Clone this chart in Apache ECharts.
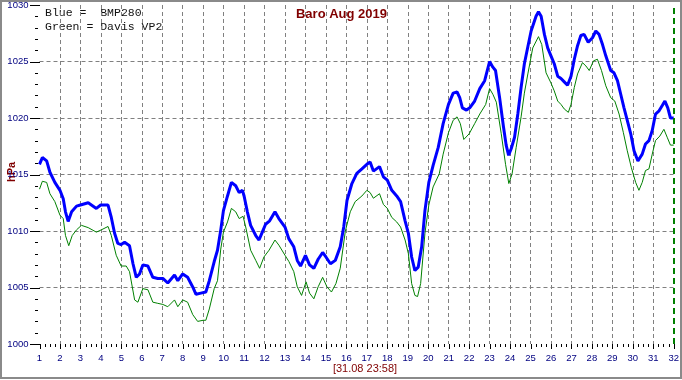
<!DOCTYPE html>
<html><head><meta charset="utf-8">
<script src="https://cdn.jsdelivr.net/npm/echarts@6/dist/echarts.min.js"></script>
<style>html,body{margin:0;padding:0;background:#fff}#c{width:682px;height:380px}</style>
</head><body><div id="c"></div>
<script>
// Day-of-month positions (x) and pressure readings in hPa
const blueDays = [1.0,1.14,1.35,1.51,1.75,2.0,2.16,2.27,2.40,2.57,2.81,3.0,3.38,3.78,3.99,4.35,4.51,4.67,4.83,4.99,5.16,5.40,5.57,5.73,5.89,6.05,6.30,6.54,6.78,7.03,7.27,7.60,7.76,8.0,8.24,8.49,8.65,8.89,
  9.13,9.30,9.54,9.70,9.86,9.99,10.19,10.38,10.59,10.76,10.92,11.0,11.16,11.32,11.57,11.73,11.89,12.05,12.25,12.51,12.70,13.0,13.19,13.43,13.6,13.76,14.0,14.2,14.41,14.62,14.84,15.0,15.22,15.46,15.70,15.87,16.03,16.27,16.51,16.76,
  17.0,17.16,17.32,17.62,17.81,18.0,18.22,18.46,18.65,18.87,19.03,19.19,19.35,19.51,19.68,19.84,20.03,20.24,20.49,20.73,20.99,21.22,21.41,21.54,21.67,21.87,22.03,22.27,22.52,22.76,23.0,23.16,23.29,23.49,23.68,23.81,23.93,24.06,24.22,24.38,24.54,24.70,24.87,
  25.03,25.27,25.39,25.52,25.68,25.84,26.0,26.16,26.33,26.49,26.65,26.81,26.98,27.14,27.3,27.46,27.62,27.82,28.03,28.19,28.35,28.52,28.68,28.92,29.08,29.25,29.41,29.57,29.73,29.9,30.06,30.25,30.46,30.62,30.79,30.95,31.11,31.27,31.44,31.57,31.71,31.84,32.0];
const blueVals = [1015.9,1016.5,1016.2,1015.2,1014.3,1013.6,1012.85,1011.7,1010.85,1011.7,1012.2,1012.3,1012.5,1012.0,1012.3,1012.3,1011.2,1009.8,1008.9,1008.8,1009.0,1008.7,1007.1,1005.9,1006.2,1007.0,1006.9,1005.9,1005.8,1005.8,1005.4,1006.1,1005.6,1006.2,1005.9,1005.05,1004.4,1004.5,
  1004.6,1005.6,1007.3,1008.3,1010.1,1011.8,1013.1,1014.3,1014.0,1013.4,1013.6,1013.1,1011.7,1010.5,1009.6,1009.2,1009.9,1010.6,1010.9,1011.7,1011.1,1010.35,1009.3,1008.6,1007.4,1006.9,1007.85,1007.0,1006.7,1007.5,1008.1,1007.7,1007.1,1007.4,1008.6,1010.35,1012.7,1014.2,1015.1,1015.5,
  1015.9,1016.1,1015.3,1015.7,1014.8,1014.5,1013.6,1013.1,1012.6,1010.9,1009.8,1007.7,1006.5,1006.8,1008.6,1011.8,1014.3,1015.8,1017.4,1019.5,1021.2,1022.2,1022.3,1021.8,1020.9,1020.7,1020.9,1021.5,1022.6,1023.3,1025.0,1024.5,1024.2,1021.8,1019.2,1017.6,1016.7,1017.3,1018.3,1020.35,1022.7,1024.8,1026.3,
  1027.7,1029.0,1029.4,1029.0,1027.4,1026.2,1025.5,1024.8,1023.7,1023.5,1023.2,1022.9,1023.7,1025.2,1026.4,1027.3,1027.4,1026.7,1027.1,1027.7,1027.4,1026.5,1025.5,1024.2,1024.0,1023.3,1022.1,1020.9,1019.8,1018.6,1017.1,1016.2,1016.8,1017.7,1018.0,1018.9,1020.35,1020.6,1021.1,1021.5,1020.9,1020.0,1020.0];

const greenDays = [1.0,1.14,1.35,1.51,1.75,2.0,2.16,2.27,2.43,2.60,2.81,3.05,3.38,3.78,4.02,4.35,4.51,4.75,4.99,5.24,5.40,5.65,5.81,6.05,6.30,6.54,6.78,7.03,7.27,7.60,7.76,8.0,8.24,8.49,8.73,9.0,
  9.13,9.30,9.54,9.70,9.86,9.99,10.19,10.38,10.59,10.76,10.95,11.08,11.32,11.57,11.76,11.97,12.22,12.51,12.70,13.0,13.19,13.43,13.6,13.81,14.03,14.2,14.41,14.62,14.84,15.05,15.27,15.49,15.70,15.95,16.19,16.43,16.76,
  17.0,17.16,17.32,17.62,17.81,18.0,18.22,18.46,18.65,18.87,19.03,19.19,19.35,19.48,19.63,19.84,20.03,20.24,20.54,20.73,20.99,21.22,21.41,21.57,21.74,22.0,22.27,22.52,22.81,23.0,23.16,23.33,23.57,23.78,23.94,24.10,24.30,24.54,24.70,24.87,
  25.11,25.39,25.55,25.76,26.0,26.16,26.33,26.49,26.65,26.85,26.98,27.14,27.30,27.54,27.71,27.87,28.08,28.27,28.47,28.68,28.92,29.12,29.33,29.54,29.73,29.93,30.14,30.30,30.46,30.62,30.79,30.95,31.11,31.32,31.52,31.68,31.84,32.0];
const greenVals = [1013.7,1014.4,1014.3,1013.3,1012.6,1011.4,1011.1,1009.6,1008.7,1009.6,1010.1,1010.5,1010.3,1009.9,1010.1,1010.4,1009.6,1007.85,1006.9,1006.9,1006.4,1003.9,1003.7,1004.9,1004.8,1003.7,1003.6,1003.5,1003.3,1003.9,1003.3,1003.9,1003.7,1002.6,1002.0,1002.1,
  1002.1,1003.1,1004.9,1005.6,1008.4,1009.9,1010.8,1012.0,1011.7,1011.1,1011.3,1010.35,1008.3,1007.4,1006.7,1007.7,1008.3,1009.2,1008.75,1007.85,1007.3,1006.4,1005.06,1004.3,1005.5,1004.5,1004.0,1005.06,1005.9,1005.06,1004.6,1005.35,1006.7,1010.0,1011.7,1012.6,1013.1,
  1013.6,1013.4,1012.9,1013.3,1012.35,1012.0,1011.2,1010.8,1010.35,1009.2,1008.0,1005.35,1004.3,1004.2,1005.35,1009.8,1012.3,1013.9,1015.06,1016.8,1018.7,1019.8,1020.1,1019.5,1018.1,1018.6,1019.5,1020.35,1021.2,1022.6,1022.1,1021.4,1018.6,1015.9,1014.2,1015.06,1017.4,1020.1,1022.2,1023.9,
  1026.2,1027.2,1026.5,1024.0,1023.1,1022.4,1021.5,1021.2,1020.8,1020.5,1021.2,1022.7,1023.9,1024.9,1024.6,1024.2,1025.06,1025.2,1024.2,1022.85,1021.8,1021.5,1020.35,1018.7,1017.1,1015.6,1014.3,1013.6,1014.3,1015.35,1015.5,1016.8,1018.0,1018.4,1019.0,1018.3,1017.6,1017.6];

const dayTicks = {min: 1, max: 32, step: 1, minorPerStep: 4};
const hpaTicks = {min: 1000, max: 1030, step: 5, minorPerStep: 5};

// tick positions in axis units (major + minor), drawn through the axes' scales
const xTickData = [];
for (let i = 0; i <= (dayTicks.max - dayTicks.min) * dayTicks.minorPerStep; i++) {
  xTickData.push([dayTicks.min + i / dayTicks.minorPerStep, hpaTicks.min, i % dayTicks.minorPerStep === 0 ? 1 : 0]);
}
const yTickData = [];
for (let i = 0; i <= (hpaTicks.max - hpaTicks.min) / hpaTicks.step * hpaTicks.minorPerStep; i++) {
  yTickData.push([dayTicks.min, hpaTicks.min + i * hpaTicks.step / hpaTicks.minorPerStep, i % hpaTicks.minorPerStep === 0 ? 1 : 0]);
}

const chart = echarts.init(document.getElementById('c'), null, {renderer: 'canvas'});
const zip = (xs, ys) => xs.map((x, i) => [x, ys[i]]);
const lbl = {color: '#000080', fontFamily: 'Liberation Sans, Arial, sans-serif', fontSize: 9.5, formatter: v => String(v)};
const dashGrid = {show: true, showMinLine: false, showMaxLine: false, lineStyle: {color: '#808080', type: [4, 3], width: 1}};

function xTickRender(params, api) {
  const p = api.coord([api.value(0), api.value(1)]);
  const x = Math.round(p[0]) + 0.5, y = Math.round(p[1]);
  const len = api.value(2) ? 5 : 3;
  return {type: 'line', shape: {x1: x, y1: y, x2: x, y2: y + len}, style: {stroke: '#000', lineWidth: 1}};
}
function yTickRender(params, api) {
  const p = api.coord([api.value(0), api.value(1)]);
  const x = Math.round(p[0]), y = Math.round(p[1]) + 0.5;
  const major = api.value(2);
  return {type: 'line', shape: {x1: major ? x - 10 : x - 5, y1: y, x2: major ? x : x - 2, y2: y}, style: {stroke: '#000', lineWidth: 1}};
}

chart.setOption({
  animation: false,
  backgroundColor: '#fff',
  grid: {left: 39.5, right: 5.4, top: 4, bottom: 36, containLabel: false},
  xAxis: {
    type: 'value', min: dayTicks.min, max: dayTicks.max, interval: dayTicks.step,
    axisLine: {show: false},
    axisTick: {show: false},
    axisLabel: Object.assign({margin: 9}, lbl),
    splitLine: dashGrid
  },
  yAxis: {
    type: 'value', min: hpaTicks.min, max: hpaTicks.max, interval: hpaTicks.step,
    axisLine: {show: false},
    axisTick: {show: false},
    axisLabel: Object.assign({margin: 11}, lbl),
    splitLine: dashGrid
  },
  graphic: [
    {type: 'rect', shape: {x: 1, y: 1, width: 680, height: 377}, style: {fill: 'none', stroke: '#8a8a8a', lineWidth: 2}, silent: true, z: 100},
    {type: 'text', x: 341.5, y: 14, style: {text: 'Baro Aug 2019', fill: '#800000', font: 'bold 13px "Liberation Sans", Arial, sans-serif', textAlign: 'center', textVerticalAlign: 'middle'}},
    {type: 'text', x: 365, y: 368.5, style: {text: '[31.08 23:58]', fill: '#800000', font: '11px "Liberation Sans", Arial, sans-serif', textAlign: 'center', textVerticalAlign: 'middle'}},
    {type: 'text', x: 12, y: 172, rotation: Math.PI / 2, style: {text: 'hPa', fill: '#800000', font: 'bold 11px "Liberation Sans", Arial, sans-serif', textAlign: 'center', textVerticalAlign: 'middle'}},
    {type: 'text', x: 45, y: 13, style: {text: 'Blue =  BMP280', fill: '#111', font: '11.5px "Liberation Mono", "Courier New", monospace', textAlign: 'left', textVerticalAlign: 'middle'}},
    {type: 'text', x: 45, y: 27, style: {text: 'Green = Davis VP2', fill: '#111', font: '11.5px "Liberation Mono", "Courier New", monospace', textAlign: 'left', textVerticalAlign: 'middle'}}
  ],
  series: [
    {type: 'custom', name: 'xticks', data: xTickData, renderItem: xTickRender, clip: false, silent: true, z: 1},
    {type: 'custom', name: 'yticks', data: yTickData, renderItem: yTickRender, clip: false, silent: true, z: 1},
    {
      name: 'Davis VP2', type: 'line', data: zip(greenDays, greenVals), showSymbol: false,
      lineStyle: {color: '#008000', width: 1}, z: 2,
      markLine: {symbol: 'none', silent: true, label: {show: false},
        lineStyle: {color: '#008000', type: [6, 4], width: 2},
        data: [{xAxis: 32}]}
    },
    {
      name: 'BMP280', type: 'line', data: zip(blueDays, blueVals), showSymbol: false,
      lineStyle: {color: '#0000ff', width: 3}, z: 3
    }
  ]
});
</script></body></html>
